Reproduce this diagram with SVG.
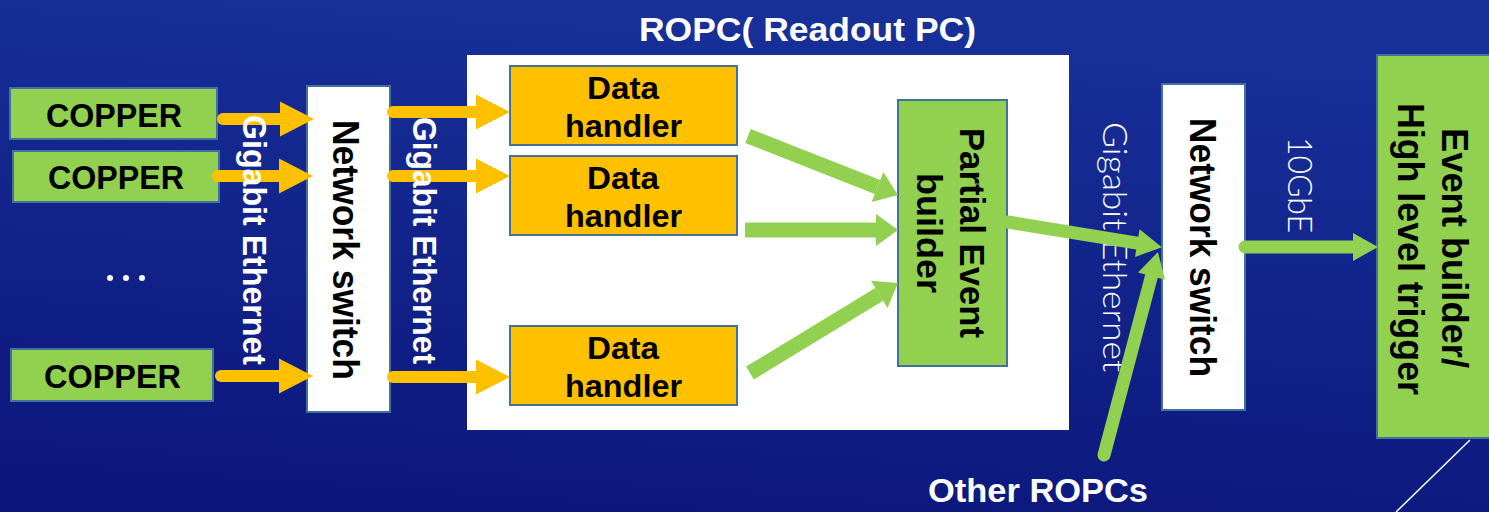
<svg xmlns="http://www.w3.org/2000/svg" width="1489" height="512" viewBox="0 0 1489 512">
<defs>
<linearGradient id="bg" x1="0.6" y1="0" x2="0.4" y2="1">
<stop offset="0" stop-color="#18319a"/>
<stop offset="1" stop-color="#0c177c"/>
</linearGradient>
<marker id="hy" markerUnits="userSpaceOnUse" markerWidth="34" markerHeight="35" refX="0" refY="17.5" orient="auto" overflow="visible">
<path d="M0,0 L34,17.5 L0,35 z" fill="#ffc000"/>
</marker>
<marker id="hg" markerUnits="userSpaceOnUse" markerWidth="22" markerHeight="32" refX="0" refY="16" orient="auto" overflow="visible">
<path d="M0,0 L22,16 L0,32 z" fill="#92d050"/>
</marker>
<marker id="hs" markerUnits="userSpaceOnUse" markerWidth="25" markerHeight="28" refX="0" refY="14" orient="auto" overflow="visible">
<path d="M0,0 L25,14 L0,28 z" fill="#92d050"/>
</marker>
</defs>
<style>
.green{fill:#92d050;stroke:#41719c;stroke-width:2}
.orange{fill:#ffc000;stroke:#41719c;stroke-width:2}
.white{fill:#ffffff;stroke:#41719c;stroke-width:2}
.b{font-family:"Liberation Sans",Arial,sans-serif;font-weight:bold;text-anchor:middle}
.blk{fill:#000000}
.wt{fill:#ffffff}
.thin{font-family:Lato,"Liberation Sans",sans-serif;font-weight:300;text-anchor:middle;fill:#ffffff}
.ya{fill:none;stroke:#ffc000;stroke-width:12;stroke-linecap:round;marker-end:url(#hy)}
.ga{fill:none;stroke:#92d050;stroke-width:15;marker-end:url(#hg)}
.gs{fill:none;stroke:#92d050;stroke-width:13;stroke-linecap:round;marker-end:url(#hs)}
</style>
<rect x="0" y="0" width="1489" height="512" fill="url(#bg)"/>
<line x1="1470" y1="440" x2="1396" y2="512" stroke="#ffffff" stroke-width="1.5"/>

<g id="ropc">
<rect x="467" y="55" width="602" height="375" fill="#ffffff"/>
<text class="b wt" x="807.5" y="41" font-size="34" textLength="337" lengthAdjust="spacingAndGlyphs">ROPC( Readout PC)</text>
</g>

<g id="copper1">
<rect class="green" x="10" y="88" width="207" height="51"/>
<text class="b blk" x="114" y="127" font-size="34" textLength="136" lengthAdjust="spacingAndGlyphs">COPPER</text>
</g>
<g id="copper2">
<rect class="green" x="13" y="151" width="206" height="51"/>
<text class="b blk" x="116" y="189" font-size="34" textLength="136" lengthAdjust="spacingAndGlyphs">COPPER</text>
</g>
<g id="dots">
<circle cx="110" cy="278" r="3" fill="#ffffff"/>
<circle cx="126" cy="278" r="3" fill="#ffffff"/>
<circle cx="142" cy="278" r="3" fill="#ffffff"/>
</g>
<g id="copper3">
<rect class="green" x="11" y="349" width="202" height="52"/>
<text class="b blk" x="112.5" y="388" font-size="34" textLength="137" lengthAdjust="spacingAndGlyphs">COPPER</text>
</g>

<g id="switch1">
<rect class="white" x="307" y="86" width="83" height="326"/>
<text class="b blk" transform="translate(333,250) rotate(90)" x="0" y="0" font-size="37" textLength="260" lengthAdjust="spacingAndGlyphs">Network switch</text>
</g>

<g id="dh1">
<rect class="orange" x="510" y="66" width="227" height="79"/>
<text class="b blk" x="623" y="99" font-size="32" textLength="72" lengthAdjust="spacingAndGlyphs">Data</text>
<text class="b blk" x="623.5" y="137" font-size="32" textLength="117" lengthAdjust="spacingAndGlyphs">handler</text>
</g>
<g id="dh2">
<rect class="orange" x="510" y="156" width="227" height="79"/>
<text class="b blk" x="623" y="189" font-size="32" textLength="72" lengthAdjust="spacingAndGlyphs">Data</text>
<text class="b blk" x="623.5" y="227" font-size="32" textLength="117" lengthAdjust="spacingAndGlyphs">handler</text>
</g>
<g id="dh3">
<rect class="orange" x="510" y="326" width="227" height="79"/>
<text class="b blk" x="623" y="359" font-size="32" textLength="72" lengthAdjust="spacingAndGlyphs">Data</text>
<text class="b blk" x="623.5" y="397" font-size="32" textLength="117" lengthAdjust="spacingAndGlyphs">handler</text>
</g>

<g id="peb">
<rect class="green" x="898" y="100" width="109" height="266"/>
<text class="b blk" transform="translate(960,233) rotate(90)" x="0" y="0" font-size="35" textLength="210" lengthAdjust="spacingAndGlyphs">Partial Event</text>
<text class="b blk" transform="translate(917,233) rotate(90)" x="0" y="0" font-size="35" textLength="120" lengthAdjust="spacingAndGlyphs">builder</text>
</g>

<g id="switch2">
<rect class="white" x="1162" y="84" width="83" height="326"/>
<text class="b blk" transform="translate(1190,247.5) rotate(90)" x="0" y="0" font-size="37" textLength="259" lengthAdjust="spacingAndGlyphs">Network switch</text>
</g>

<g id="ebhlt">
<rect class="green" x="1377" y="55" width="120" height="383"/>
<text class="b blk" transform="translate(1442,248) rotate(90)" x="0" y="0" font-size="36" textLength="240" lengthAdjust="spacingAndGlyphs">Event builder/</text>
<text class="b blk" transform="translate(1398,249) rotate(90)" x="0" y="0" font-size="36" textLength="292" lengthAdjust="spacingAndGlyphs">High level trigger</text>
</g>

<g id="other-ropcs">
<text class="b wt" x="1038" y="502" font-size="34" textLength="220" lengthAdjust="spacingAndGlyphs">Other ROPCs</text>
</g>

<text class="thin" transform="translate(1103,247) rotate(90)" x="0" y="0" font-size="33" textLength="250" lengthAdjust="spacingAndGlyphs">Gigabit Ethernet</text>
<text class="thin" transform="translate(1288,185) rotate(90)" x="0" y="0" font-size="33" textLength="96" lengthAdjust="spacingAndGlyphs">10GbE</text>

<g id="connectors">
<path class="ya" d="M223,119 H280"/>
<path class="ya" d="M218,176 H279"/>
<path class="ya" d="M221,376 H279"/>
<path class="ya" d="M393,112 H476"/>
<path class="ya" d="M393,176 H476"/>
<path class="ya" d="M393,377 H476"/>
<path class="ga" d="M748,136 L877.5,187"/>
<path class="ga" d="M745,230 L876,230"/>
<path class="ga" d="M750,373 L879.2,294.4"/>
<path class="gs" d="M1008,222 L1137.3,243.1"/>
<path class="gs" d="M1104,455 L1151.5,276.2"/>
<path class="gs" d="M1245,247 L1353,247"/>
</g>

<text class="b wt" transform="translate(243,240) rotate(90)" x="0" y="0" font-size="34" textLength="250" lengthAdjust="spacingAndGlyphs">Gigabit Ethernet</text>
<text class="b wt" transform="translate(413,240.5) rotate(90)" x="0" y="0" font-size="34" textLength="247" lengthAdjust="spacingAndGlyphs">Gigabit Ethernet</text>
</svg>
